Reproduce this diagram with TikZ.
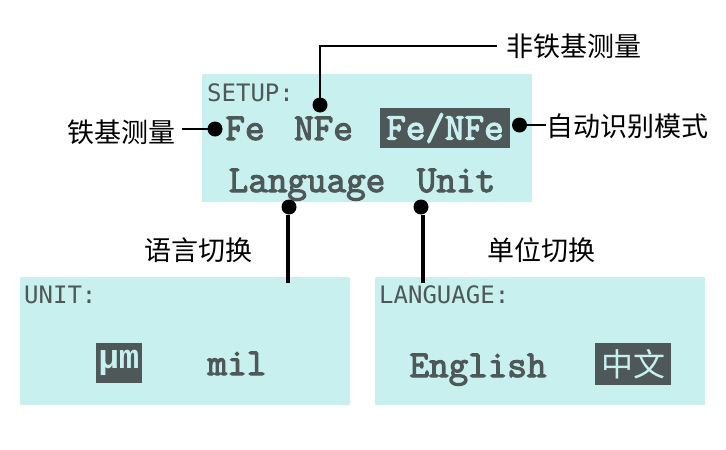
\documentclass[tikz,border=0pt]{standalone}
\usepackage{fontspec}
\setmainfont{Noto Sans CJK SC}
\newfontfamily\lcdfont{DejaVu Sans Mono}
\newfontfamily\lcdbold{Latin Modern Mono}[FakeBold=3]
\newfontfamily\lcdgreek{Liberation Mono Bold}
\definecolor{panelfill}{HTML}{C8F0EF}
\definecolor{lcdink}{HTML}{4E5858}
\begin{document}
\begin{tikzpicture}[x=1pt, y=-1pt,
    panel/.style={fill=panelfill, rounded corners=1pt, minimum width=330pt, minimum height=128pt, inner sep=0pt, outer sep=0pt, anchor=north west},
    title/.style={font=\lcdfont\fontsize{24}{24}\selectfont, text=lcdink, inner sep=0pt, anchor=west},
    item/.style={font=\lcdbold\fontsize{38}{38}\selectfont, text=lcdink, inner sep=0pt, anchor=base},
    chosen/.style={item, fill=lcdink, text=panelfill, anchor=center},
    caption/.style={font=\fontsize{27}{27}\selectfont, inner sep=0pt, anchor=center},
    dot/.style={circle, fill=black, minimum size=15pt, inner sep=0pt, outer sep=0pt},
    thin lead/.style={draw=black, line width=2pt},
    thick lead/.style={draw=black, line width=4pt}]
    \useasboundingbox (0, 0) rectangle (726, 450);
    % panels
    \node[panel] (setup) at (202, 74) {};
    \node[panel] (unit) at (20, 277) {};
    \node[panel] (language) at (375, 277) {};
    % setup screen
    \node[title] (setuptitle) at (207, 93) {SETUP:};
    \node[item] (fe) at (245, 140) {Fe};
    \node[item] (nfe) at (323.5, 140) {NFe};
    \node[chosen, minimum width=130pt, minimum height=40pt] (fenfe) at (445, 128) {Fe/NFe};
    \node[item] (languageitem) at (307, 192) {Language};
    \node[item] (unititem) at (456, 192) {Unit};
    % unit screen
    \node[title] (unittitle) at (24, 295) {UNIT:};
    \node[chosen, minimum width=46pt, minimum height=40pt, font=\lcdgreek\fontsize{34}{34}\selectfont] (micron) at (119, 363) {\raisebox{-7pt}{μm}};
    \node[item] (mil) at (237, 375) {mil};
    % language screen
    \node[title] (languagetitle) at (379, 295) {LANGUAGE:};
    \node[item] (english) at (478, 377) {English};
    \node[chosen, minimum width=76pt, minimum height=42pt, font=\fontsize{32}{32}\selectfont] (chinese) at (633, 364) {中文};
    % captions
    \node[caption] (nfelabel) at (574, 46) {非铁基测量};
    \node[caption] (felabel) at (121, 132) {铁基测量};
    \node[caption] (autolabel) at (627, 126) {自动识别模式};
    \node[caption] (langlabel) at (198, 250) {语言切换};
    \node[caption] (unitlabel) at (541, 250) {单位切换};
    % dots
    \node[dot] (fedot) at (215, 129) {};
    \node[dot] (nfedot) at (320, 105) {};
    \node[dot] (autodot) at (519.5, 125) {};
    \node[dot] (langdot) at (289, 207) {};
    \node[dot] (unitdot) at (421, 207) {};
    \coordinate (langend) at (288, 283);
    \coordinate (unitend) at (423, 283);
    % leads
    \draw[thin lead] (fedot) -- ([xshift=7pt]felabel.east |- fedot);
    \draw[thin lead] (nfedot) |- ([xshift=-9pt]nfelabel.west);
    \draw[thin lead] (autodot) -- (autolabel.west |- autodot);
    \draw[thick lead] (langdot.south -| langend) -- (langend);
    \draw[thick lead] (unitdot.south -| unitend) -- (unitend);
\end{tikzpicture}
\end{document}
